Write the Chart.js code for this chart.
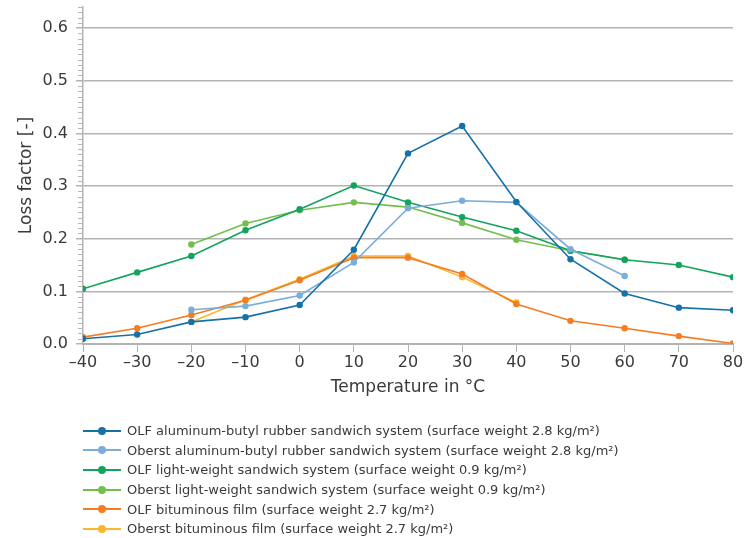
<!DOCTYPE html>
<html>
<head>
<meta charset="utf-8">
<script src="https://cdn.jsdelivr.net/npm/chart.js@4/dist/chart.umd.min.js"></script>
<style>
  html, body { margin: 0; padding: 0; background: #fff; }
  #wrap { position: relative; width: 749px; height: 538px; }
  #chart { position: absolute; left: 0; top: 0; }
  #legend {
    position: absolute; left: 83px; top: 421px;
    font-family: "DejaVu Sans", sans-serif; font-size: 13px; color: #3a3a3a;
    list-style: none; margin: 0; padding: 0;
  }
  #legend li { display: flex; align-items: center; height: 19.6px; white-space: nowrap; }
  #legend .swatch { position: relative; width: 38px; height: 2px; margin-right: 6px; }
  #legend .dot {
    position: absolute; left: 15px; top: -3px; width: 8px; height: 8px; border-radius: 50%;
  }
</style>
</head>
<body>
<div id="wrap">
  <canvas id="chart" width="749" height="538"></canvas>
  <ul id="legend"></ul>
</div>
<script>
'use strict';

// --- DATA ---
const temperatures = [-40, -30, -20, -10, 0, 10, 20, 30, 40, 50, 60, 70, 80];

const olfAluButyl    = [0.010, 0.018, 0.042, 0.051, 0.074, 0.179, 0.362, 0.414, 0.270, 0.161, 0.096, 0.069, 0.064];
const oberstAluButyl = [null, null, 0.065, 0.072, 0.092, 0.155, 0.258, 0.272, 0.269, 0.180, 0.129, null, null];
const olfLight       = [0.105, 0.136, 0.167, 0.216, 0.256, 0.301, 0.269, 0.241, 0.215, 0.177, 0.160, 0.150, 0.127];
const oberstLight    = [null, null, 0.189, 0.229, 0.254, 0.269, 0.260, 0.230, 0.198, 0.177, 0.160, null, null];
const olfBitumen     = [0.013, 0.030, 0.055, 0.083, 0.121, 0.164, 0.164, 0.133, 0.076, 0.044, 0.030, 0.015, 0.001];
const oberstBitumen  = [null, null, 0.042, 0.084, 0.123, 0.167, 0.167, 0.127, 0.079, null, null, null, null];

const seriesLabels = [
    'OLF aluminum-butyl rubber sandwich system (surface weight 2.8 kg/m²)',
    'Oberst aluminum-butyl rubber sandwich system (surface weight 2.8 kg/m²)',
    'OLF light-weight sandwich system (surface weight 0.9 kg/m²)',
    'Oberst light-weight sandwich system (surface weight 0.9 kg/m²)',
    'OLF bituminous film (surface weight 2.7 kg/m²)',
    'Oberst bituminous film (surface weight 2.7 kg/m²)'
];
const seriesValues = [olfAluButyl, oberstAluButyl, olfLight, oberstLight, olfBitumen, oberstBitumen];
const seriesColors = ['#1571a8', '#7badd9', '#12a35c', '#72bf4f', '#f47d23', '#fcb72e'];

const yTickStep = 0.1;
const xTickStep = 10;

const textColor = '#3a3a3a';
const gridColor = '#b3b3b3';
const fontFamily = '"DejaVu Sans", sans-serif';

function toPoints(values) {
    const pts = [];
    values.forEach((v, i) => {
        if (v !== null) pts.push({ x: temperatures[i], y: v });
    });
    return pts;
}

const datasets = seriesValues.map((values, i) => ({
    label: seriesLabels[i],
    data: toPoints(values),
    borderColor: seriesColors[i],
    backgroundColor: seriesColors[i],
    borderWidth: 1.6,
    pointRadius: 3.2,
    pointHoverRadius: 3.2,
    pointBorderWidth: 0,
    tension: 0
}));

// small ticks every 0.01 along the y axis
const minorTicks = {
    id: 'minorTicks',
    afterDraw(chart) {
        const y = chart.scales.y;
        const ctx = chart.ctx;
        const x0 = y.right;
        ctx.save();
        ctx.strokeStyle = '#b8b8b8';
        ctx.lineWidth = 1;
        for (let i = 0; i <= Math.round(y.max * 100); i++) {
            if (i % 10 === 0) continue;
            const py = Math.round(y.getPixelForValue(i / 100)) + 0.5;
            ctx.beginPath();
            ctx.moveTo(x0 - 5, py);
            ctx.lineTo(x0, py);
            ctx.stroke();
        }
        ctx.restore();
    }
};

const chart = new Chart(document.getElementById('chart').getContext('2d'), {
    type: 'line',
    data: { datasets },
    plugins: [minorTicks],
    options: {
        responsive: false,
        animation: false,
        layout: { padding: { top: 7, right: 16, left: 0, bottom: 140 } },
        plugins: {
            legend: { display: false },
            tooltip: { enabled: false }
        },
        scales: {
            x: {
                type: 'linear',
                min: -40,
                max: 80,
                afterFit: s => { s.height = 54; },
                ticks: {
                    stepSize: xTickStep,
                    padding: 1,
                    color: textColor,
                    font: { family: fontFamily, size: 16 },
                    callback: v => (v < 0 ? '\u2013' + Math.abs(v) : String(v))
                },
                grid: {
                    drawOnChartArea: false,
                    drawTicks: true,
                    tickLength: 8,
                    tickColor: gridColor
                },
                border: { color: gridColor, width: 2 },
                title: {
                    display: true,
                    text: 'Temperature in °C',
                    color: textColor,
                    font: { family: fontFamily, size: 17 },
                    padding: { top: 0, bottom: 0 }
                }
            },
            y: {
                min: 0,
                max: 0.64,
                afterFit: s => {
                    s.width = 83;
                    s.paddingTop = 0;
                    s.paddingBottom = 0;
                },
                afterBuildTicks: s => {
                    s.ticks = [0, 1, 2, 3, 4, 5, 6].map(i => ({ value: i * yTickStep }));
                },
                ticks: {
                    padding: 8,
                    color: textColor,
                    font: { family: fontFamily, size: 16 },
                    callback: v => Number(v).toFixed(1)
                },
                grid: {
                    color: gridColor,
                    lineWidth: 1.5,
                    tickLength: 7,
                    tickColor: gridColor
                },
                border: { color: gridColor, width: 1.5 },
                title: {
                    display: true,
                    text: 'Loss factor [-]',
                    color: textColor,
                    font: { family: fontFamily, size: 17 },
                    padding: { top: 16, bottom: 0 }
                }
            }
        }
    }
});

// legend rows: line with a dot, then the label
const legendEl = document.getElementById('legend');
chart.data.datasets.forEach(ds => {
    const li = document.createElement('li');
    const sw = document.createElement('span');
    sw.className = 'swatch';
    sw.style.background = ds.borderColor;
    const dot = document.createElement('span');
    dot.className = 'dot';
    dot.style.background = ds.borderColor;
    sw.appendChild(dot);
    const txt = document.createElement('span');
    txt.textContent = ds.label;
    li.appendChild(sw);
    li.appendChild(txt);
    legendEl.appendChild(li);
});
</script>
</body>
</html>
